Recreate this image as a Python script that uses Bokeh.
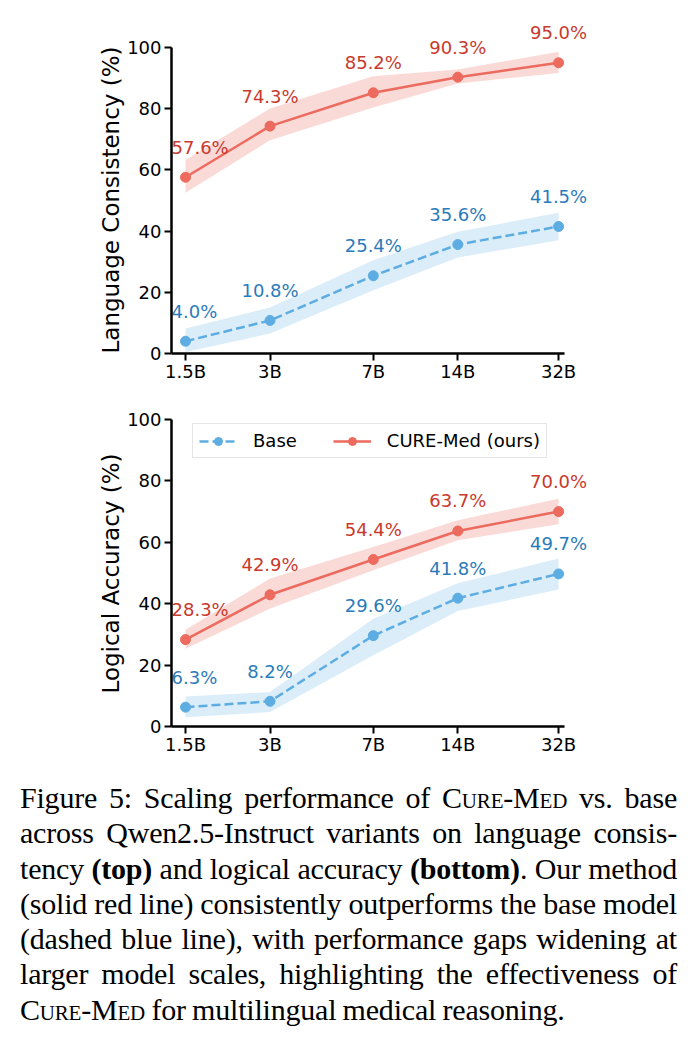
from bokeh.plotting import figure
from bokeh.models import Range1d, FixedTicker, Legend, LegendItem, Div, Title
from bokeh.layouts import column
from bokeh.core.properties import value
from bokeh.embed import file_html
from bokeh.resources import INLINE

# ---------------- data ----------------
sizes = [1.5, 3, 7, 14, 32]
size_labels = ["1.5B", "3B", "7B", "14B", "32B"]

lc_base = [4.0, 10.8, 25.4, 35.6, 41.5]
lc_base_lo = [0.5, 6.5, 20.7, 31.4, 37.0]
lc_base_hi = [8.2, 15.0, 30.5, 39.8, 46.0]
lc_cure = [57.6, 74.3, 85.2, 90.3, 95.0]
lc_cure_lo = [52.5, 69.7, 80.4, 88.2, 91.7]
lc_cure_hi = [63.2, 80.1, 90.6, 92.8, 98.6]

la_base = [6.3, 8.2, 29.6, 41.8, 49.7]
la_base_lo = [3.0, 4.7, 23.2, 37.6, 44.6]
la_base_hi = [9.8, 11.2, 35.1, 46.7, 54.7]
la_cure = [28.3, 42.9, 54.4, 63.7, 70.0]
la_cure_lo = [25.3, 38.4, 50.9, 60.7, 65.9]
la_cure_hi = [31.5, 48.2, 58.5, 67.2, 74.2]

y_ticks = [0, 20, 40, 60, 80, 100]

# ---------------- style ----------------
RED = "#EC6A5E"
RED_TXT = "#C9392C"
BLUE = "#5DADE2"
BLUE_TXT = "#2B7BBA"
FONT = "DejaVu Sans"

X0, X1 = 1.337, 45.13
AX_X1 = 33.6


def add_labels(p, xs, ys, color):
    texts = [f"{v:.1f}%" for v in ys]
    # first label hugs the y axis (left aligned), the others are centred
    p.text(x=xs[:1], y=ys[:1], text=texts[:1],
           text_font=value(FONT), text_font_size="18px", text_color=color,
           text_align="left", text_baseline="alphabetic",
           x_offset=-14, y_offset=-30)
    p.text(x=xs[1:], y=ys[1:], text=texts[1:],
           text_font=value(FONT), text_font_size="18px", text_color=color,
           text_align="center", text_baseline="alphabetic", y_offset=-30)


def make_panel(base, base_lo, base_hi, cure, cure_lo, cure_hi, ylabel,
               height, top, bottom, ymax, title_offset, legend=False):
    p = figure(width=692, height=height, x_axis_type="log",
               x_range=Range1d(X0, X1), y_range=Range1d(0, ymax),
               output_backend="svg", toolbar_location=None,
               min_border_left=171, min_border_right=92,
               min_border_top=top, min_border_bottom=bottom)
    p.outline_line_color = None
    p.grid.visible = False
    p.background_fill_color = "white"
    p.border_fill_color = "white"

    # bands
    p.varea(x=sizes, y1=base_lo, y2=base_hi, fill_color=BLUE, fill_alpha=0.22)
    p.varea(x=sizes, y1=cure_lo, y2=cure_hi, fill_color=RED, fill_alpha=0.25)

    bl = p.line(sizes, base, line_color=BLUE, line_width=2.5, line_dash="9 4")
    bs = p.scatter(sizes, base, size=10, fill_color=BLUE, line_color=BLUE)
    cl = p.line(sizes, cure, line_color=RED, line_width=2.5)
    cs = p.scatter(sizes, cure, size=10, fill_color=RED, line_color=RED)

    add_labels(p, sizes, base, BLUE_TXT)
    add_labels(p, sizes, cure, RED_TXT)

    # axes
    xa = p.xaxis[0]
    xa.ticker = FixedTicker(ticks=sizes, minor_ticks=[])
    xa.major_label_overrides = {float(s): l for s, l in zip(sizes, size_labels)}
    xa.bounds = (X0, AX_X1)
    ya = p.yaxis[0]
    ya.ticker = FixedTicker(ticks=y_ticks, minor_ticks=[])
    ya.bounds = (0, 100)
    for ax in (xa, ya):
        ax.axis_line_width = 2.5
        ax.axis_line_color = "black"
        ax.major_tick_line_width = 2
        ax.major_tick_line_color = "black"
        ax.major_tick_out = 7
        ax.major_tick_in = 0
        ax.minor_tick_line_color = None
        ax.major_label_text_font = FONT
        ax.major_label_text_font_size = "18px"
        ax.major_label_text_color = "black"
    xa.major_label_standoff = 0
    ya.major_label_standoff = 3

    # y-axis title, placed along the 0-100 span of the axis
    ttl = Title(text=ylabel, align="left", offset=title_offset,
                text_font=FONT, text_font_size="23px",
                text_font_style="normal", text_color="black", standoff=2)
    p.add_layout(ttl, "left")

    if legend:
        lg = Legend(items=[LegendItem(label="Base", renderers=[bl, bs]),
                           LegendItem(label="CURE-Med (ours)", renderers=[cl, cs])],
                    location=(21, 268), orientation="horizontal",
                    label_text_font=FONT, label_text_font_size="18px",
                    label_text_color="black",
                    glyph_width=38, glyph_height=20, label_height=20,
                    label_standoff=16, spacing=36, padding=6, margin=0,
                    border_line_color="#cccccc", border_line_width=1,
                    background_fill_color="white", background_fill_alpha=0.85)
        p.add_layout(lg)
    return p


p1 = make_panel(lc_base, lc_base_lo, lc_base_hi, lc_cure, lc_cure_lo, lc_cure_hi,
                "Language Consistency (%)", 390, 20, 37, 333 / 3.06, 0)
p2 = make_panel(la_base, la_base_lo, la_base_hi, la_cure, la_cure_lo, la_cure_hi,
                "Logical Accuracy (%)", 370, 2, 34, 334 / 3.07, 33, legend=True)

SC = '<span style="font-variant: small-caps;">Cure-Med</span>'
caption_lines = [
    f"Figure 5: Scaling performance of {SC} vs. base",
    "across Qwen2.5-Instruct variants on language consis-",
    "tency <b>(top)</b> and logical accuracy <b>(bottom)</b>. Our method",
    "(solid red line) consistently outperforms the base model",
    "(dashed blue line), with performance gaps widening at",
    "larger model scales, highlighting the effectiveness of",
    f"{SC} for multilingual medical reasoning.",
]
rows = []
for i, line in enumerate(caption_lines):
    last = "left" if i == len(caption_lines) - 1 else "justify"
    rows.append(f'<div style="text-align: justify; text-align-last: {last}; white-space: nowrap;">{line}</div>')
html = ('<div style="font-family: \'Liberation Serif\', \'Times New Roman\', serif; '
        'font-size: 30px; letter-spacing: -0.2px; word-spacing: -1px; '
        'line-height: 35.3px; color: black; '
        'width: 657px; margin-left: 15px; padding-top: 15px;">' + "".join(rows) + "</div>")
cap = Div(text=html, width=692, height=284)

layout = column(p1, p2, cap, spacing=0)
open("out.html", "w").write(file_html(layout, INLINE))
